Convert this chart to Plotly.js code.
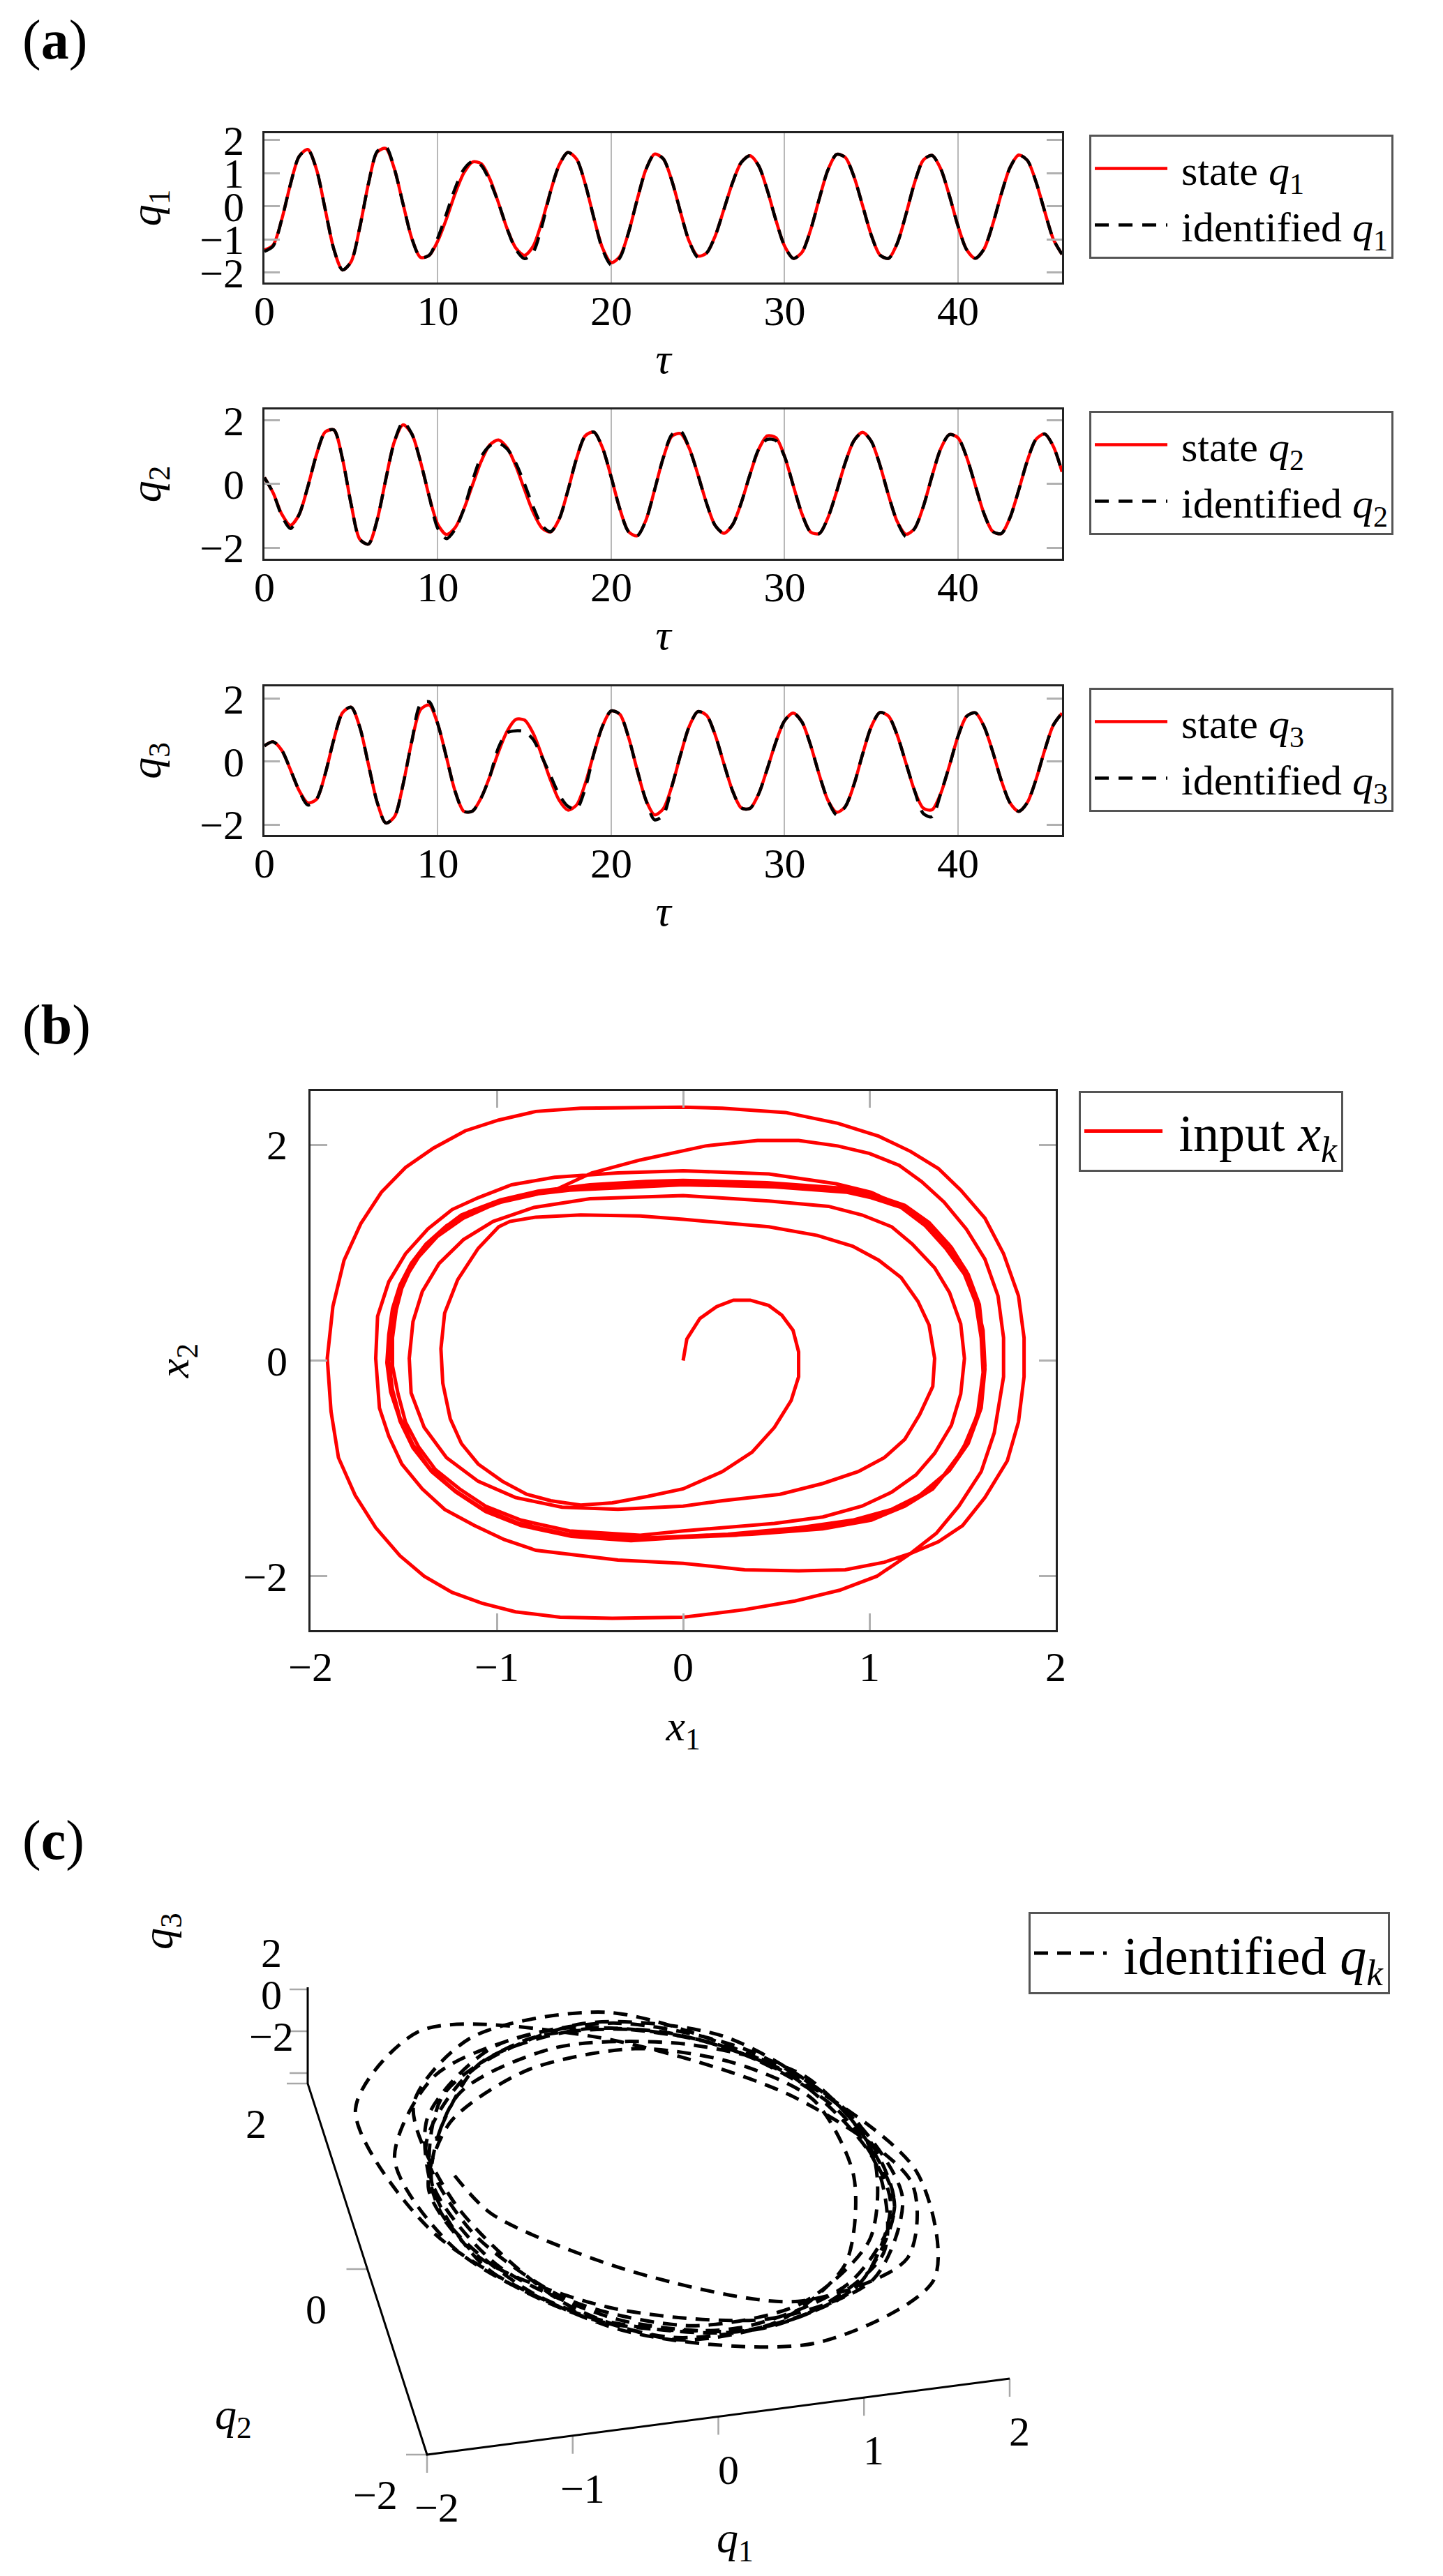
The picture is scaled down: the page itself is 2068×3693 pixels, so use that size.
<!DOCTYPE html>
<html>
<head>
<meta charset="utf-8">
<script src="https://cdn.plot.ly/plotly-3.0.1.min.js"></script>
<style>
  html, body { margin: 0; padding: 0; background: white; }
  #chart { width: 2068px; height: 3693px; }
</style>
</head>
<body>
<div id="chart"></div>
<script>
// time axis of the three state plots
const tau = [
  0, 0.5, 1, 1.5, 2, 2.5, 3, 3.5, 4, 4.5, 5, 5.5, 6, 6.5, 7, 7.5, 8, 8.5, 9, 9.5,
  10, 10.5, 11, 11.5, 12, 12.5, 13, 13.5, 14, 14.5, 15, 15.5, 16, 16.5, 17, 17.5, 18, 18.5, 19, 19.5,
  20, 20.5, 21, 21.5, 22, 22.5, 23, 23.5, 24, 24.5, 25, 25.5, 26, 26.5, 27, 27.5, 28, 28.5, 29, 29.5,
  30, 30.5, 31, 31.5, 32, 32.5, 33, 33.5, 34, 34.5, 35, 35.5, 36, 36.5, 37, 37.5, 38, 38.5, 39, 39.5,
  40, 40.5, 41, 41.5, 42, 42.5, 43, 43.5, 44, 44.5, 45, 45.5, 46
];

const q1State = [
  -1.32, -1.17, -0.39, 0.67, 1.51, 1.72, 1.12, -0.08, -1.29, -1.92, -1.67, -0.63, 0.69, 1.64, 1.75, 1.12, 0.06, -0.97, -1.54, -1.48,
  -1.04, -0.37, 0.39, 1.01, 1.34, 1.29, 0.83, 0.10, -0.68, -1.26, -1.48, -1.20, -0.47, 0.45, 1.25, 1.63, 1.43, 0.68, -0.35, -1.26,
  -1.70, -1.51, -0.79, 0.21, 1.11, 1.58, 1.44, 0.77, -0.18, -1.06, -1.50, -1.41, -0.89, -0.09, 0.72, 1.33, 1.53, 1.23, 0.49, -0.42,
  -1.20, -1.57, -1.39, -0.71, 0.23, 1.10, 1.57, 1.48, 0.90, 0.02, -0.87, -1.47, -1.57, -1.11, -0.24, 0.72, 1.40, 1.54, 1.14, 0.33,
  -0.59, -1.31, -1.57, -1.29, -0.55, 0.38, 1.17, 1.55, 1.39, 0.74, -0.15, -0.99, -1.45
];
const q1Ident = [
  -1.36, -1.20, -0.39, 0.67, 1.51, 1.72, 1.12, -0.08, -1.29, -1.92, -1.67, -0.63, 0.69, 1.66, 1.80, 1.12, 0.06, -0.97, -1.54, -1.48,
  -0.95, -0.22, 0.55, 1.12, 1.36, 1.24, 0.76, 0.10, -0.68, -1.30, -1.58, -1.38, -0.60, 0.45, 1.25, 1.63, 1.43, 0.68, -0.35, -1.30,
  -1.77, -1.55, -0.79, 0.21, 1.11, 1.58, 1.44, 0.77, -0.18, -1.06, -1.54, -1.41, -0.89, -0.09, 0.72, 1.33, 1.53, 1.23, 0.49, -0.42,
  -1.20, -1.57, -1.39, -0.71, 0.23, 1.10, 1.57, 1.48, 0.90, 0.02, -0.87, -1.47, -1.57, -1.11, -0.24, 0.72, 1.40, 1.54, 1.14, 0.33,
  -0.59, -1.31, -1.57, -1.29, -0.55, 0.38, 1.17, 1.55, 1.39, 0.74, -0.15, -0.99, -1.45
];

const q2State = [
  0.20, -0.28, -0.95, -1.30, -0.96, -0.09, 0.92, 1.63, 1.70, 0.79, -0.64, -1.74, -1.89, -1.13, 0.15, 1.34, 1.86, 1.57, 0.70, -0.39,
  -1.27, -1.59, -1.37, -0.79, -0.03, 0.71, 1.23, 1.38, 1.13, 0.56, -0.18, -0.89, -1.38, -1.51, -1.10, -0.21, 0.80, 1.51, 1.63, 1.13,
  0.21, -0.79, -1.50, -1.63, -1.14, -0.19, 0.82, 1.50, 1.58, 1.12, 0.29, -0.61, -1.31, -1.55, -1.28, -0.59, 0.29, 1.08, 1.51, 1.45,
  0.86, -0.05, -0.94, -1.51, -1.56, -1.06, -0.24, 0.67, 1.36, 1.62, 1.34, 0.59, -0.37, -1.19, -1.58, -1.40, -0.71, 0.24, 1.10, 1.55,
  1.45, 0.84, -0.05, -0.93, -1.49, -1.56, -1.06, -0.20, 0.73, 1.40, 1.57, 1.18, 0.38
];
const q2Ident = [
  0.20, -0.28, -1.00, -1.40, -0.96, -0.09, 0.92, 1.63, 1.70, 0.79, -0.64, -1.74, -1.89, -1.13, 0.15, 1.34, 1.94, 1.57, 0.70, -0.39,
  -1.40, -1.72, -1.42, -0.79, 0.10, 0.85, 1.20, 1.28, 1.10, 0.65, 0.00, -0.72, -1.30, -1.50, -1.10, -0.21, 0.80, 1.51, 1.63, 1.13,
  0.21, -0.79, -1.50, -1.63, -1.14, -0.19, 0.82, 1.55, 1.66, 1.12, 0.29, -0.61, -1.31, -1.55, -1.28, -0.59, 0.29, 1.08, 1.40, 1.36,
  0.86, -0.05, -0.94, -1.51, -1.56, -1.06, -0.24, 0.67, 1.36, 1.62, 1.34, 0.59, -0.37, -1.19, -1.65, -1.40, -0.71, 0.24, 1.10, 1.55,
  1.45, 0.84, -0.05, -0.93, -1.49, -1.56, -1.06, -0.20, 0.73, 1.40, 1.57, 1.18, 0.38
];

const q3State = [
  0.50, 0.63, 0.36, -0.26, -0.92, -1.31, -1.20, -0.40, 0.70, 1.55, 1.73, 1.09, -0.10, -1.29, -1.95, -1.75, -0.71, 0.65, 1.65, 1.80,
  1.19, 0.13, -0.95, -1.58, -1.57, -1.15, -0.47, 0.31, 0.97, 1.34, 1.32, 0.90, 0.19, -0.59, -1.23, -1.54, -1.38, -0.70, 0.26, 1.13,
  1.61, 1.50, 0.77, -0.27, -1.22, -1.69, -1.50, -0.78, 0.22, 1.12, 1.59, 1.47, 0.84, -0.07, -0.93, -1.47, -1.49, -1.03, -0.23, 0.63,
  1.30, 1.54, 1.26, 0.52, -0.42, -1.23, -1.61, -1.43, -0.73, 0.24, 1.11, 1.56, 1.44, 0.83, -0.05, -0.93, -1.48, -1.53, -1.02, -0.14,
  0.80, 1.44, 1.55, 1.12, 0.32, -0.60, -1.31, -1.58, -1.30, -0.57, 0.36, 1.16, 1.54
];
const q3Ident = [
  0.50, 0.63, 0.36, -0.26, -0.92, -1.38, -1.20, -0.40, 0.70, 1.55, 1.73, 1.09, -0.10, -1.29, -1.95, -1.75, -0.71, 0.65, 1.82, 1.90,
  1.19, 0.13, -0.95, -1.58, -1.57, -1.15, -0.47, 0.45, 0.92, 0.98, 0.95, 0.70, 0.15, -0.45, -1.05, -1.42, -1.50, -0.85, 0.26, 1.13,
  1.61, 1.50, 0.77, -0.27, -1.22, -1.85, -1.70, -0.78, 0.22, 1.12, 1.59, 1.47, 0.84, -0.07, -0.93, -1.47, -1.49, -1.03, -0.23, 0.63,
  1.30, 1.54, 1.26, 0.52, -0.42, -1.23, -1.69, -1.43, -0.73, 0.24, 1.11, 1.56, 1.44, 0.83, -0.05, -0.93, -1.65, -1.75, -1.02, -0.14,
  0.80, 1.44, 1.55, 1.12, 0.32, -0.60, -1.31, -1.58, -1.30, -0.57, 0.36, 1.16, 1.54
];

// phase portrait of the input x_k
const x1Input = [
  0.00, 0.02, 0.09, 0.18, 0.27, 0.36, 0.46, 0.53, 0.59, 0.62, 0.62, 0.58, 0.49, 0.37, 0.21, 0.00, -0.19, -0.38, -0.55, -0.71,
  -0.84, -0.97, -1.10, -1.19, -1.25, -1.29, -1.30, -1.28, -1.21, -1.10, -0.99, -0.93, -0.79, -0.55, -0.23, 0.00, 0.46, 0.72, 0.91, 1.05,
  1.17, 1.26, 1.32, 1.35, 1.34, 1.27, 1.19, 1.08, 0.94, 0.75, 0.52, 0.21, 0.00, -0.35,
  -0.65, -0.90, -1.10, -1.27, -1.39, -1.46, -1.47, -1.45, -1.40, -1.31, -1.18, -1.02, -0.80, -0.50, 0.00, 0.46, 0.78, 0.96, 1.12, 1.23,
  1.35, 1.43, 1.49, 1.51, 1.49, 1.44, 1.35, 1.25, 1.12, 0.96, 0.75, 0.49, 0.00,
  -0.23, -0.61, -0.87, -1.06, -1.20, -1.33, -1.42, -1.49, -1.53, -1.56, -1.56, -1.54, -1.51, -1.46, -1.38, -1.29, -1.19, -1.04, -0.86, -0.61,
  -0.29, 0.00, 0.49, 0.88, 1.01, 1.17, 1.30, 1.41, 1.51, 1.57, 1.60, 1.61, 1.58, 1.50, 1.40, 1.27, 1.12, 0.91, 0.62, 0.24, 0.00,
  -0.25, -0.62, -0.88, -1.08, -1.23, -1.36, -1.45, -1.52, -1.56, -1.58, -1.57, -1.55, -1.50, -1.42, -1.32, -1.18, -1.00, -0.69, -0.49, -0.23,
  0.00, 0.12, 0.40, 0.62, 0.83, 1.00, 1.16, 1.28, 1.40, 1.52, 1.62, 1.69, 1.72, 1.72, 1.67, 1.60, 1.48, 1.36, 1.22,
  1.04, 0.84, 0.60, 0.33, 0.00, -0.38, -0.66, -0.90, -1.08, -1.24, -1.39, -1.52, -1.65, -1.76, -1.85, -1.89, -1.91, -1.88, -1.82, -1.73,
  -1.62, -1.49, -1.34, -1.17, -0.99, -0.79, -0.55, 0.00, 0.21, 0.55, 0.83, 1.05, 1.22, 1.37, 1.49, 1.62, 1.72, 1.80, 1.83, 1.83,
  1.80, 1.74, 1.62, 1.50, 1.37, 1.22, 1.08, 0.87, 0.62, 0.33, 0.00,
  -0.35, -0.55, -0.79, -0.96, -1.12, -1.28, -1.40, -1.51, -1.58, -1.63, -1.65, -1.64, -1.58, -1.49, -1.37, -1.24, -1.10, -0.92, -0.69, -0.35,
  0.00, 0.46, 0.82, 1.01, 1.17, 1.31, 1.41, 1.51, 1.57, 1.61, 1.62, 1.60, 1.54, 1.45, 1.34, 1.19, 1.01, 0.75, 0.37, 0.00,
  -0.30, -0.61, -0.88, -1.07, -1.22, -1.35, -1.45, -1.52, -1.57, -1.59, -1.58, -1.56, -1.52, -1.46, -1.38, -1.27, -1.15, -0.98, -0.78, -0.50,
  -0.20, 0.00, 0.45, 0.85, 1.02, 1.19, 1.32, 1.43, 1.52, 1.58, 1.61, 1.62, 1.60, 1.53, 1.43, 1.30, 1.14, 0.95, 0.65, 0.28, 0.00,
  -0.28, -0.60, -0.87, -1.06, -1.22, -1.35, -1.45, -1.52, -1.56, -1.58, -1.57, -1.55, -1.51, -1.45, -1.37, -1.26, -1.13, -0.96, -0.75, -0.45,
  0.00, 0.48, 0.86, 1.04, 1.20, 1.33, 1.44, 1.53, 1.59, 1.61
];
const x2Input = [
  0.00, 0.20, 0.39, 0.50, 0.56, 0.56, 0.51, 0.42, 0.28, 0.08, -0.15, -0.37, -0.62, -0.85, -1.03, -1.19, -1.26, -1.32, -1.34, -1.30,
  -1.24, -1.12, -0.96, -0.77, -0.54, -0.21, 0.11, 0.44, 0.75, 1.04, 1.24, 1.29, 1.33, 1.35, 1.34, 1.31, 1.24, 1.16, 1.06, 0.93,
  0.77, 0.55, 0.33, 0.02, -0.24, -0.50, -0.73, -0.90, -1.03, -1.14, -1.24, -1.30, -1.35, -1.38,
  -1.36, -1.27, -1.12, -0.90, -0.62, -0.30, 0.02, 0.36, 0.64, 0.90, 1.12, 1.29, 1.42, 1.50, 1.53, 1.48, 1.43, 1.35, 1.24, 1.08,
  0.86, 0.63, 0.34, 0.02, -0.31, -0.60, -0.86, -1.06, -1.22, -1.35, -1.45, -1.51, -1.58,
  -1.62, -1.58, -1.48, -1.35, -1.19, -1.01, -0.80, -0.57, -0.31, -0.05, 0.21, 0.47, 0.67, 0.86, 1.06, 1.22, 1.35, 1.45, 1.53, 1.58,
  1.61, 1.63, 1.61, 1.56, 1.51, 1.42, 1.25, 1.04, 0.80, 0.54, 0.21, -0.11, -0.50, -0.83, -1.06, -1.25, -1.38, -1.48, -1.55, -1.61, -1.63,
  -1.65, -1.61, -1.51, -1.37, -1.20, -1.00, -0.78, -0.53, -0.27, 0.00, 0.26, 0.50, 0.74, 0.96, 1.15, 1.32, 1.46, 1.58, 1.74, 1.86,
  1.95, 1.99, 2.04, 2.04, 1.99, 1.92, 1.81, 1.66, 1.47, 1.22, 0.94, 0.60, 0.21, -0.15, -0.67, -1.03, -1.35, -1.60, -1.79,
  -2.00, -2.13, -2.23, -2.31, -2.38, -2.39, -2.38, -2.33, -2.25, -2.15, -2.00, -1.81, -1.55, -1.25, -0.90, -0.47, 0.02, 0.50, 0.93, 1.27,
  1.56, 1.79, 1.97, 2.13, 2.23, 2.31, 2.34, 2.35, 2.34, 2.30, 2.20, 2.08, 1.94, 1.78, 1.58, 1.32, 0.99, 0.60, 0.21, -0.15,
  -0.57, -0.93, -1.27, -1.53, -1.68, -1.79, -1.87, -1.94, -1.95, -1.94, -1.88,
  -1.85, -1.81, -1.76, -1.66, -1.53, -1.38, -1.19, -0.96, -0.70, -0.44, 0.02, 0.41, 0.73, 0.99, 1.22, 1.40, 1.51, 1.63, 1.70, 1.74,
  1.76, 1.73, 1.64, 1.56, 1.43, 1.25, 1.06, 0.83, 0.57, 0.28, -0.05, -0.38, -0.70, -0.96, -1.19, -1.35, -1.48, -1.56, -1.61, -1.64,
  -1.66, -1.62, -1.52, -1.38, -1.21, -1.02, -0.80, -0.55, -0.29, -0.02, 0.24, 0.48, 0.70, 0.90, 1.08, 1.25, 1.38, 1.49, 1.57, 1.63,
  1.66, 1.67, 1.65, 1.60, 1.54, 1.44, 1.28, 1.07, 0.83, 0.56, 0.25, -0.08, -0.44, -0.77, -1.02, -1.22, -1.37, -1.48, -1.56, -1.62, -1.64,
  -1.67, -1.63, -1.53, -1.40, -1.22, -1.03, -0.81, -0.56, -0.30, -0.03, 0.23, 0.47, 0.69, 0.89, 1.08, 1.24, 1.37, 1.48, 1.56, 1.62,
  1.66, 1.63, 1.58, 1.52, 1.42, 1.26, 1.05, 0.80, 0.52, 0.20
];

// ticks of the 3d view
const q1Ticks = [-2, -1, 0, 1, 2];
const q2Ticks = [-2, 0, 2];
const q3Ticks = [-2, 0, 2];

const FONT = 'Liberation Serif, Times New Roman, serif';
const RED = '#ff0000';
const W = 2068, H = 3693;
const GAP = '\u00a0';   // small space between legend sample and text

// pixel -> paper helpers (margins are zero)
const px = v => v / W;
const py = v => 1 - v / H;

// orthographic view used for panel (c): screen pixels per unit of q1, q2, q3
const Q1R = [-2, 2], Q2R = [-2, 2], Q3R = [-2.5, 2.1];
const ORIGIN = {x: 612, y: 3519};
const E1 = {x: 208.75, y: -27.25};
const E2 = {x: -42.75, y: -133};
const E3 = {x: 0, y: -30};
function proj(a, b, c) {
  const da = a - Q1R[0], db = b - Q2R[0], dc = c - Q3R[0];
  return [ORIGIN.x + da * E1.x + db * E2.x + dc * E3.x,
          ORIGIN.y + da * E1.y + db * E2.y + dc * E3.y];
}

function stateTrace(y, name, n) {
  const s = n > 1 ? n : '';
  return {
    x: tau, y: y, mode: 'lines', name: GAP + name,
    xaxis: 'x' + s, yaxis: 'y' + s, legend: 'legend' + s,
    line: {color: RED, width: 4.5, shape: 'spline', smoothing: 0.8}
  };
}
function identTrace(y, name, n) {
  const s = n > 1 ? n : '';
  return {
    x: tau, y: y, mode: 'lines', name: GAP + name,
    xaxis: 'x' + s, yaxis: 'y' + s, legend: 'legend' + s,
    line: {color: 'black', width: 4.5, dash: '20px,14px', shape: 'spline', smoothing: 0.8}
  };
}

// projected 3d curve and its frame
const curve = q1Ident.map((v, i) => proj(v, q2Ident[i], q3Ident[i]));
const frame = [
  proj(Q1R[1], Q2R[0], Q3R[0]), proj(Q1R[0], Q2R[0], Q3R[0]),
  proj(Q1R[0], Q2R[1], Q3R[0]), proj(Q1R[0], Q2R[1], Q3R[1])
];
const tickSeg = [];
q1Ticks.forEach(t => { const p = proj(t, Q2R[0], Q3R[0]); tickSeg.push(p, [p[0], p[1] + 26], [null, null]); });
q2Ticks.forEach(t => { const p = proj(Q1R[0], t, Q3R[0]); tickSeg.push(p, [p[0] - 30, p[1]], [null, null]); });
q3Ticks.forEach(t => { const p = proj(Q1R[0], Q2R[1], t); tickSeg.push(p, [p[0] - 26, p[1]], [null, null]); });

const traces = [
  stateTrace(q1State, 'state <i>q</i><sub>1</sub>', 1),
  identTrace(q1Ident, 'identified <i>q</i><sub>1</sub>', 1),
  stateTrace(q2State, 'state <i>q</i><sub>2</sub>', 2),
  identTrace(q2Ident, 'identified <i>q</i><sub>2</sub>', 2),
  stateTrace(q3State, 'state <i>q</i><sub>3</sub>', 3),
  identTrace(q3Ident, 'identified <i>q</i><sub>3</sub>', 3),
  {
    x: x1Input, y: x2Input, mode: 'lines', name: GAP + 'input <i>x</i><sub><i>k</i></sub>',
    xaxis: 'x4', yaxis: 'y4', legend: 'legend4',
    line: {color: RED, width: 5}
  },
  {
    x: tickSeg.map(p => p[0]), y: tickSeg.map(p => p[1]), mode: 'lines', showlegend: false,
    xaxis: 'x5', yaxis: 'y5', line: {color: '#a8a8a8', width: 2.5}
  },
  {
    x: frame.map(p => p[0]), y: frame.map(p => p[1]), mode: 'lines', showlegend: false,
    xaxis: 'x5', yaxis: 'y5', line: {color: 'black', width: 3}
  },
  {
    x: curve.map(p => p[0]), y: curve.map(p => p[1]), mode: 'lines',
    name: GAP + 'identified <i>q</i><sub><i>k</i></sub>', xaxis: 'x5', yaxis: 'y5', legend: 'legend5',
    line: {color: 'black', width: 5, dash: '20px,13px', shape: 'spline', smoothing: 0.8}
  }
];

const tickFont = {family: FONT, size: 60, color: 'black'};
const titleFont = {family: FONT, size: 62, color: 'black'};

function timeX(anchor) {
  return {
    domain: [px(379), px(1522)], range: [0, 46], tickvals: [0, 10, 20, 30, 40], anchor: anchor,
    showgrid: true, gridcolor: '#b8b8b8', gridwidth: 2, zeroline: false,
    showline: true, mirror: true, linecolor: '#222', linewidth: 3,
    ticks: '', ticklabelstandoff: -14, tickfont: tickFont,
    title: {text: '<i>τ</i>', font: titleFont, standoff: 14}
  };
}
function timeY(top, bottom, range, dtick, label, anchor) {
  return {
    domain: [py(bottom), py(top)], range: range, dtick: dtick, anchor: anchor,
    showgrid: false, zeroline: false,
    showline: true, mirror: 'ticks', linecolor: '#222', linewidth: 3,
    ticks: 'inside', ticklen: 22, tickwidth: 3, tickcolor: '#b0b0b0',
    ticklabelstandoff: 14, tickfont: tickFont,
    title: {text: label, font: titleFont, standoff: 36}
  };
}

function legendAt(x, y, size, itemwidth) {
  return {
    x: x, y: y, xanchor: 'left', yanchor: 'top',
    bgcolor: 'white', bordercolor: '#555', borderwidth: 3,
    font: {family: FONT, size: size, color: 'black'},
    itemwidth: itemwidth, tracegroupgap: 0
  };
}

function label3d(text, p, dx, dy, extra) {
  return Object.assign({
    text: text, x: p[0] + dx, y: p[1] + dy, xref: 'x5', yref: 'y5',
    xanchor: 'center', yanchor: 'middle', showarrow: false, font: tickFont
  }, extra || {});
}

const annotations = [
  {text: '(<b>a</b>)', x: px(30), y: py(57), xref: 'paper', yref: 'paper', xanchor: 'left', yanchor: 'middle',
    showarrow: false, font: {family: FONT, size: 80, color: 'black'}},
  {text: '(<b>b</b>)', x: px(30), y: py(1469), xref: 'paper', yref: 'paper', xanchor: 'left', yanchor: 'middle',
    showarrow: false, font: {family: FONT, size: 80, color: 'black'}},
  {text: '(<b>c</b>)', x: px(30), y: py(2638), xref: 'paper', yref: 'paper', xanchor: 'left', yanchor: 'middle',
    showarrow: false, font: {family: FONT, size: 80, color: 'black'}}
];
q1Ticks.forEach(t => annotations.push(label3d(String(t).replace('-', '−'), proj(t, Q2R[0], Q3R[0]), 14, 76)));
q2Ticks.forEach(t => annotations.push(label3d(String(t).replace('-', '−'), proj(Q1R[0], t, Q3R[0]), -74, 58)));
q3Ticks.forEach(t => annotations.push(label3d(String(t).replace('-', '−'), proj(Q1R[0], Q2R[1], t), -52, -52)));
annotations.push(label3d('<i>q</i><sub>1</sub>', proj(0, Q2R[0], Q3R[0]), 24, 178, {font: titleFont}));
annotations.push(label3d('<i>q</i><sub>2</sub>', proj(Q1R[0], 0, Q3R[0]), -192, 212, {font: titleFont}));
annotations.push(label3d('<i>q</i><sub>3</sub>', proj(Q1R[0], Q2R[1], Q3R[1]), -211, -80, {font: titleFont, textangle: -90}));

const layout = {
  width: W, height: H,
  margin: {l: 0, r: 0, t: 0, b: 0},
  paper_bgcolor: 'white', plot_bgcolor: 'rgba(0,0,0,0)',
  font: {family: FONT, color: 'black'},
  showlegend: true,

  xaxis: timeX('y'),
  yaxis: timeY(191, 405, [-2.3, 2.21], 1, '<i>q</i><sub>1</sub>', 'x'),
  xaxis2: timeX('y2'),
  yaxis2: timeY(587, 801, [-2.35, 2.34], 2, '<i>q</i><sub>2</sub>', 'x2'),
  xaxis3: timeX('y3'),
  yaxis3: timeY(984, 1197, [-2.33, 2.39], 2, '<i>q</i><sub>3</sub>', 'x3'),

  xaxis4: {
    domain: [px(445), px(1513)], range: [-2, 2], dtick: 1, anchor: 'y4',
    showgrid: false, zeroline: false,
    showline: true, mirror: 'ticks', linecolor: '#222', linewidth: 3,
    ticks: 'inside', ticklen: 24, tickwidth: 3, tickcolor: '#b0b0b0',
    ticklabelstandoff: -2, tickfont: tickFont,
    title: {text: '<i>x</i><sub>1</sub>', font: titleFont, standoff: 30}
  },
  yaxis4: {
    domain: [py(2337), py(1564)], range: [-2.5, 2.5], dtick: 2, anchor: 'x4',
    showgrid: false, zeroline: false,
    showline: true, mirror: 'ticks', linecolor: '#222', linewidth: 3,
    ticks: 'inside', ticklen: 24, tickwidth: 3, tickcolor: '#b0b0b0',
    ticklabelstandoff: 18, tickfont: tickFont,
    title: {text: '<i>x</i><sub>2</sub>', font: titleFont, standoff: 58}
  },

  // pixel-scaled plane for the projected 3d view
  xaxis5: {domain: [0, 1], range: [0, W], anchor: 'y5', visible: false, fixedrange: true},
  yaxis5: {domain: [0, py(2700)], range: [H, 2700], anchor: 'x5', visible: false, fixedrange: true},

  legend: legendAt(px(1561), py(193), 60, 104),
  legend2: legendAt(px(1561), py(589), 60, 104),
  legend3: legendAt(px(1561), py(986), 60, 104),
  legend4: legendAt(px(1546), py(1564), 74, 112),
  legend5: legendAt(px(1474), py(2741), 76, 104),

  annotations: annotations
};

Plotly.newPlot('chart', traces, layout, {staticPlot: true, displayModeBar: false});
</script>
</body>
</html>
